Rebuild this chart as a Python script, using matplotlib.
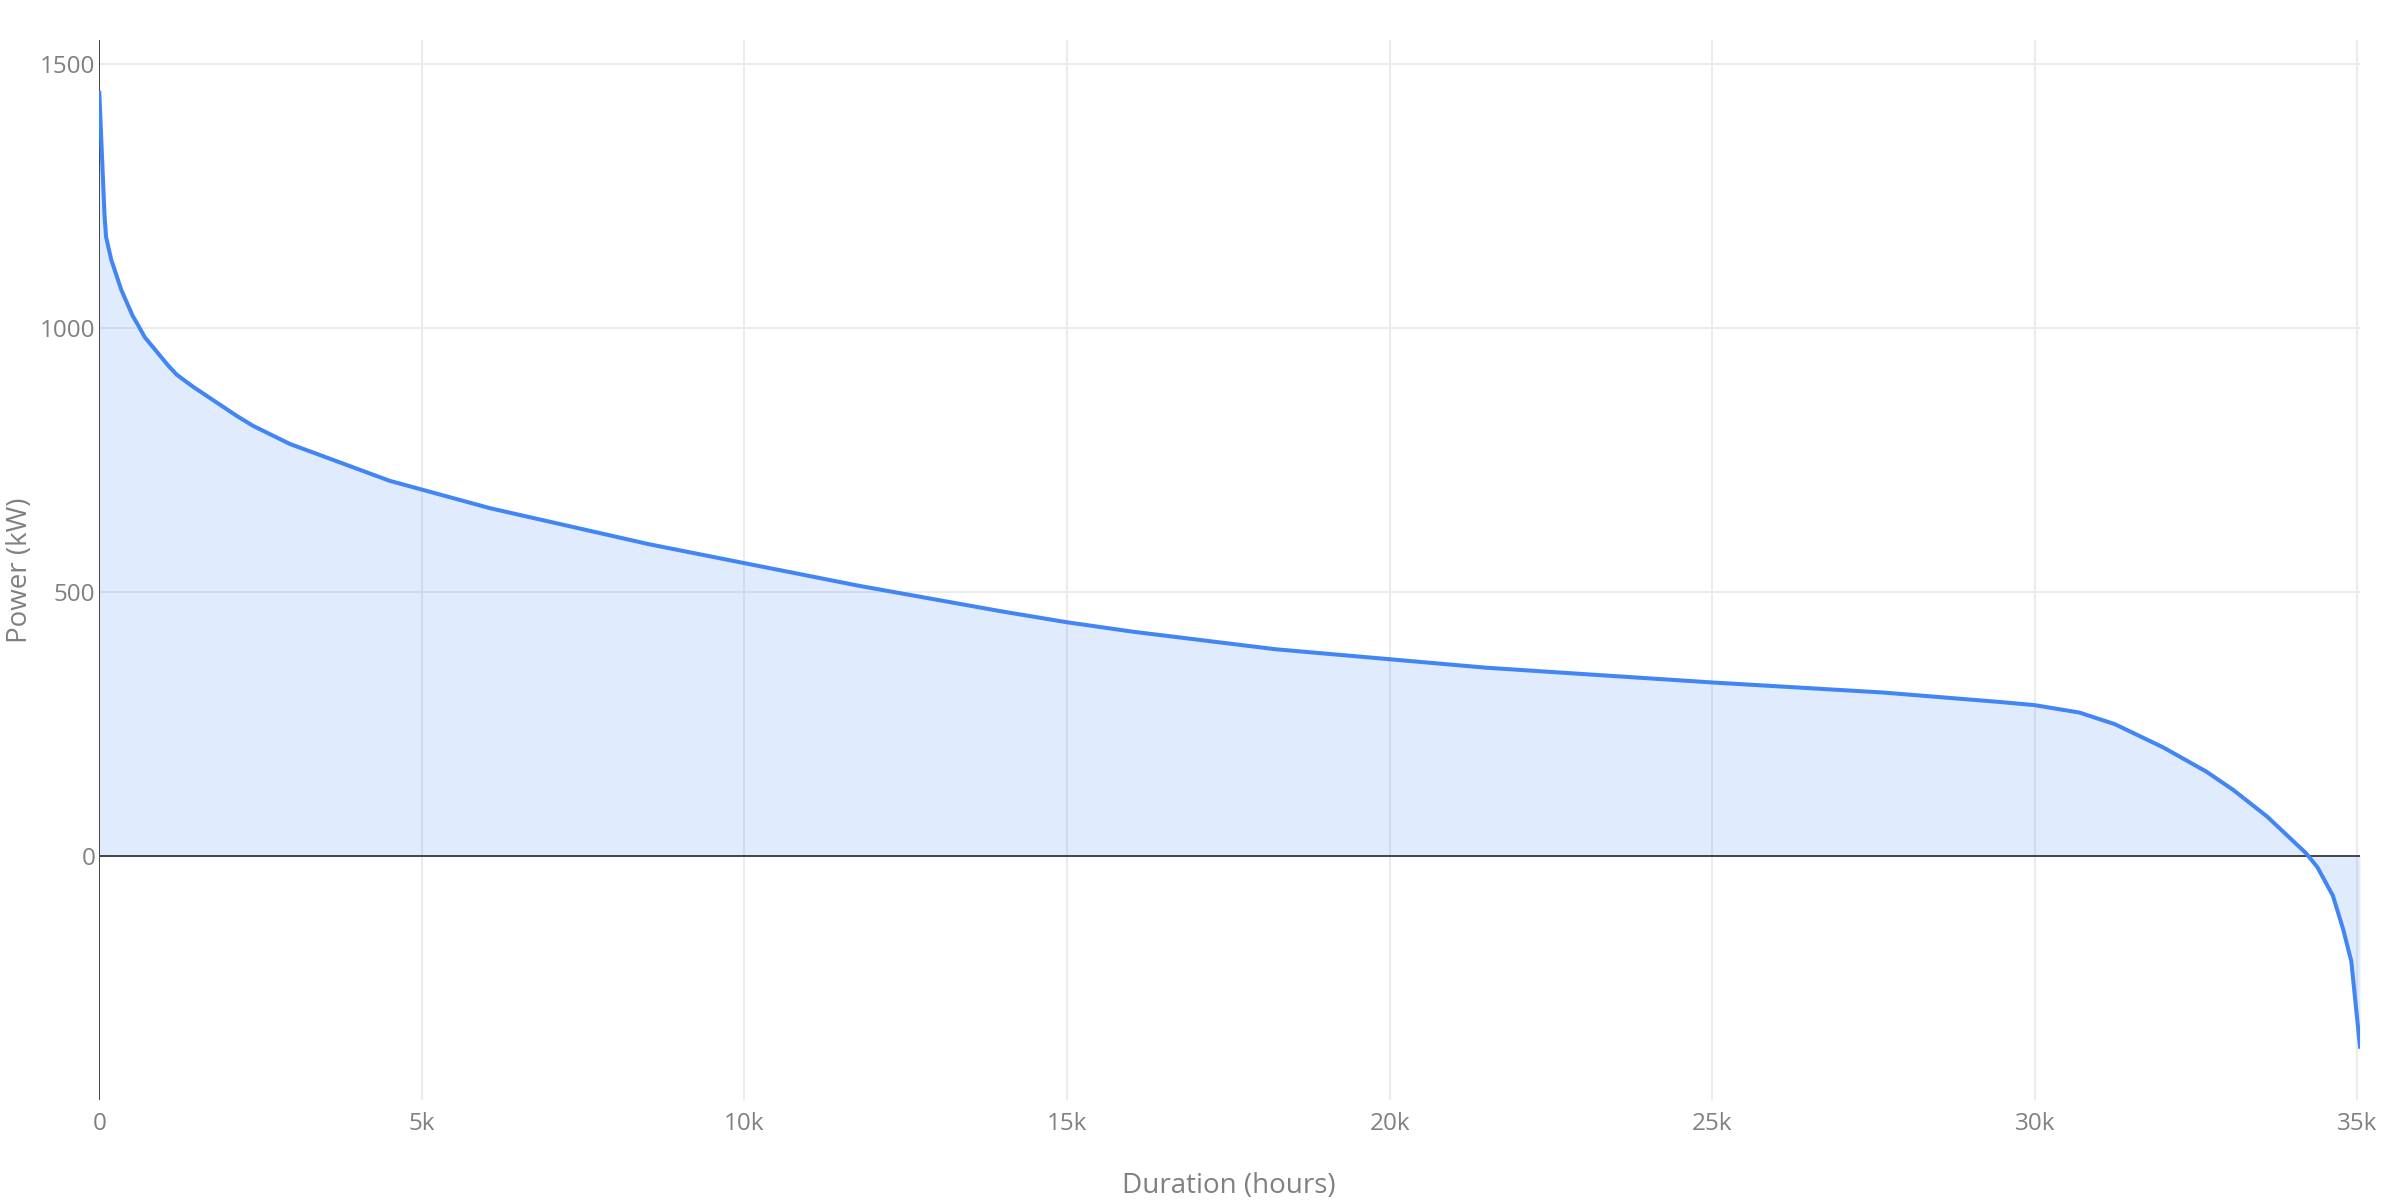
import numpy as np
import matplotlib.pyplot as plt

# Load duration curve
duration = np.array([0, 80, 105, 185, 340, 515, 605, 705, 1070, 1200, 1455, 2130, 2385, 2950,
                     4500, 6060, 8515, 10000, 11780, 13970, 15000, 16030, 18225, 20000, 21490,
                     22490, 25000, 27640, 29460, 30000, 30690, 31240, 31990, 32660, 33080, 33600,
                     34200, 34380, 34620, 34780, 34905, 35040])
power = np.array([1445, 1215, 1172, 1129, 1072, 1023, 1004, 982, 928, 911, 888, 833, 814, 780,
                  710, 658, 590, 554, 511, 463, 442, 424, 391, 372, 356,
                  348, 328, 309, 291, 285, 271, 249, 205, 159, 124, 74,
                  5, -22, -76, -140, -200, -362])

x_ticks = [0, 5000, 10000, 15000, 20000, 25000, 30000, 35000]
x_tick_labels = ['0', '5k', '10k', '15k', '20k', '25k', '30k', '35k']
y_ticks = [0, 500, 1000, 1500]
y_tick_labels = ['0', '500', '1000', '1500']

line_color = '#4285F4'
text_color = '#808080'

plt.rcParams['font.family'] = ['Open Sans', 'DejaVu Sans']

fig = plt.figure(figsize=(24, 12), dpi=100)
ax = fig.add_axes([99.3 / 2400, 1 - 1099.5 / 1200, (2360 - 99.3) / 2400, (1099.5 - 40) / 1200])

# fill to zero, then zero lines, then the curve on top
ax.fill_between(duration, power, 0, color=line_color, alpha=0.16, linewidth=0, zorder=2)
ax.axhline(0, color='#444444', linewidth=1.4, zorder=3)
ax.axvline(0, color='#444444', linewidth=1.4, zorder=3)
ax.plot(duration, power, color=line_color, linewidth=2.9, zorder=4)

ax.set_xlim(0, 35040)
ax.set_ylim(-462, 1545)

ax.set_xticks(x_ticks)
ax.set_xticklabels(x_tick_labels)
ax.set_yticks(y_ticks)
ax.set_yticklabels(y_tick_labels)
ax.tick_params(axis='both', length=0, labelsize=17.5, labelcolor=text_color)
ax.tick_params(axis='x', pad=9)
ax.tick_params(axis='y', pad=3)

ax.grid(True, color='#EBEBEB', linewidth=1.4, zorder=0)
ax.set_axisbelow(True)
for side in ax.spines.values():
    side.set_visible(False)

fig.text(1229 / 2400, 1 - 1186 / 1200, 'Duration (hours)', ha='center', va='center',
         fontsize=20, color=text_color)
fig.text(20 / 2400, 1 - 570 / 1200, 'Power (kW)', ha='center', va='center', rotation=90,
         fontsize=20, color=text_color)

fig.savefig('out.png', dpi=100, facecolor='white')
